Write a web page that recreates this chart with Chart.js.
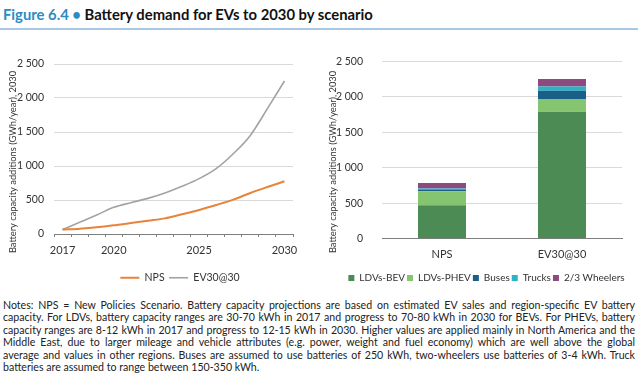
<!DOCTYPE html>
<html><head><meta charset="utf-8">
<script src="https://cdn.jsdelivr.net/npm/chart.js@4.4.0/dist/chart.umd.min.js"></script>
<style>
body{margin:0;width:640px;height:379px;background:#fff;overflow:hidden;position:relative;font-family:Lato,sans-serif}
#title{position:absolute;left:3px;top:5px;font-size:14.8px;line-height:18px;font-weight:bold;color:#111;white-space:nowrap}
#title .fig{color:#2b8cc4}
#rule{position:absolute;left:0;top:28px;width:638px;height:2px;background:#a8c8e6}
#c1{position:absolute;left:0;top:36px}
#c2{position:absolute;left:320px;top:36px}
#notes{position:absolute;left:3px;top:299px;width:632px;font-size:10.6px;line-height:12.4px;color:#222}
#notes div{text-align:justify;text-align-last:justify}
#notes div.last{text-align:left;text-align-last:left}
</style></head>
<body>
<div id="title"><span class="fig">Figure 6.4 •</span> Battery demand for EVs to 2030 by scenario</div>
<div id="rule"></div>
<canvas id="c1" width="360" height="257"></canvas>
<canvas id="c2" width="320" height="257"></canvas>
<div id="notes">
<div>Notes: NPS = New Policies Scenario. Battery capacity projections are based on estimated EV sales and region-specific EV battery</div>
<div>capacity. For LDVs, battery capacity ranges are 30-70 kWh in 2017 and progress to 70-80 kWh in 2030 for BEVs. For PHEVs, battery</div>
<div>capacity ranges are 8-12 kWh in 2017 and progress to 12-15 kWh in 2030. Higher values are applied mainly in North America and the</div>
<div>Middle East, due to larger mileage and vehicle attributes (e.g. power, weight and fuel economy) which are well above the global</div>
<div>average and values in other regions. Buses are assumed to use batteries of 250 kWh, two-wheelers use batteries of 3-4 kWh. Truck</div>
<div class="last">batteries are assumed to range between 150-350 kWh.</div>
</div>
<script>
// ---- data ----
const years = ['2017','2018','2019','2020','2021','2022','2023','2024','2025','2026','2027','2028','2029','2030'];
const shownYears = ['2017','2020','2025','2030'];
const npsLine  = [65, 78, 98, 127, 162, 196, 230, 290, 353, 426, 505, 603, 691, 775];
const ev30Line = [65, 172, 280, 392, 461, 524, 603, 701, 814, 962, 1180, 1450, 1843, 2250];

const scenarios = ['NPS', 'EV30@30'];
const ldvBev    = [470, 1790];
const ldvPhev   = [200, 180];
const buses     = [25, 115];
const trucks    = [12, 60];
const wheelers  = [78, 105];

const yTickValues = [0, 500, 1000, 1500, 2000, 2500];
const yTitle = 'Battery capacity additions (GWh/year), 2030';

// ---- styling helpers ----
const FONT = 'Lato';
const TXT = '#333333';
const fmt = v => String(v).replace(/\B(?=(\d{3})+(?!\d))/g, ' ');

const yTitlePlugin = {
  id: 'yTitleP',
  afterDraw(chart, args, opts) {
    const ctx = chart.ctx;
    ctx.save();
    ctx.translate(opts.x, opts.y);
    ctx.rotate(-Math.PI / 2);
    ctx.font = opts.size + 'px ' + FONT;
    ctx.fillStyle = TXT;
    ctx.textAlign = 'center';
    ctx.textBaseline = 'middle';
    ctx.fillText(opts.text, 0, 0);
    ctx.restore();
  }
};

Chart.defaults.font.family = FONT;
Chart.defaults.font.size = 11;
Chart.defaults.color = TXT;

const yScale = (w, pad) => ({
  min: 0, max: 2500,
  afterFit: s => { s.width = w; },
  afterBuildTicks: s => { s.ticks = yTickValues.map(v => ({value: v})); },
  ticks: { padding: pad, callback: v => fmt(v), font: {size: 10.5} },
  grid: { color: '#d9d9d9', drawTicks: false },
  border: { display: false }
});
const spacer = w => ({
  position: 'right', display: true,
  afterFit: s => { s.width = w; },
  ticks: { display: false },
  grid: { display: false, drawTicks: false },
  border: { display: false }
});

new Chart(document.getElementById('c1'), {
  type: 'line',
  data: {
    labels: years,
    datasets: [
      { label: 'NPS', data: npsLine, borderColor: '#e8833a', backgroundColor: '#e8833a', borderWidth: 2, pointRadius: 0, cubicInterpolationMode: 'monotone' },
      { label: 'EV30@30', data: ev30Line, borderColor: '#a3a3a3', backgroundColor: '#a3a3a3', borderWidth: 1.6, pointRadius: 0, cubicInterpolationMode: 'monotone' }
    ]
  },
  options: {
    responsive: false, animation: false, devicePixelRatio: 1,
    layout: { padding: { top: 28, right: 0, left: 0, bottom: 0 } },
    scales: {
      x: {
        offset: true,
        afterFit: s => { s.height = 34; },
        grid: { display: true, drawOnChartArea: false, offset: true, tickLength: 3, color: '#7f7f7f' },
        border: { color: '#7f7f7f' },
        ticks: { autoSkip: false, maxRotation: 0, padding: 7, callback: (v, i) => shownYears.includes(years[i]) ? years[i] : '' }
      },
      y: yScale(54, 10),
      yR: spacer(67)
    },
    plugins: {
      legend: {
        position: 'bottom',
        labels: { usePointStyle: true, pointStyle: 'line', pointStyleWidth: 19, padding: 4.5, font: {size: 10.5} }
      },
      tooltip: { enabled: false },
      yTitleP: { x: 12.5, y: 126, size: 9.3, text: yTitle }
    }
  },
  plugins: [yTitlePlugin]
});

new Chart(document.getElementById('c2'), {
  type: 'bar',
  data: {
    labels: scenarios,
    datasets: [
      { label: 'LDVs-BEV', data: ldvBev, backgroundColor: '#4d8b55' },
      { label: 'LDVs-PHEV', data: ldvPhev, backgroundColor: '#86c56f' },
      { label: 'Buses', data: buses, backgroundColor: '#1a5f87' },
      { label: 'Trucks', data: trucks, backgroundColor: '#2ab3c9' },
      { label: '2/3 Wheelers', data: wheelers, backgroundColor: '#8c4b7e' }
    ]
  },
  options: {
    responsive: false, animation: false, devicePixelRatio: 1,
    datasets: { bar: { barPercentage: 0.4, categoryPercentage: 1.0 } },
    layout: { padding: { top: 24, right: 0, left: 13, bottom: 0 } },
    scales: {
      x: {
        stacked: true,
        afterFit: s => { s.height = 32.3; },
        grid: { display: true, drawOnChartArea: false, drawTicks: false },
        border: { color: '#7f7f7f' },
        ticks: { padding: 9.3 }
      },
      y: Object.assign(yScale(49, 19), { stacked: true }),
      yR: spacer(18)
    },
    plugins: {
      legend: {
        position: 'bottom',
        labels: { boxWidth: 6, boxHeight: 6, padding: 2, font: {size: 10} }
      },
      tooltip: { enabled: false },
      yTitleP: { x: 13, y: 126, size: 9.3, text: yTitle }
    }
  },
  plugins: [yTitlePlugin]
});
</script>
</body></html>
